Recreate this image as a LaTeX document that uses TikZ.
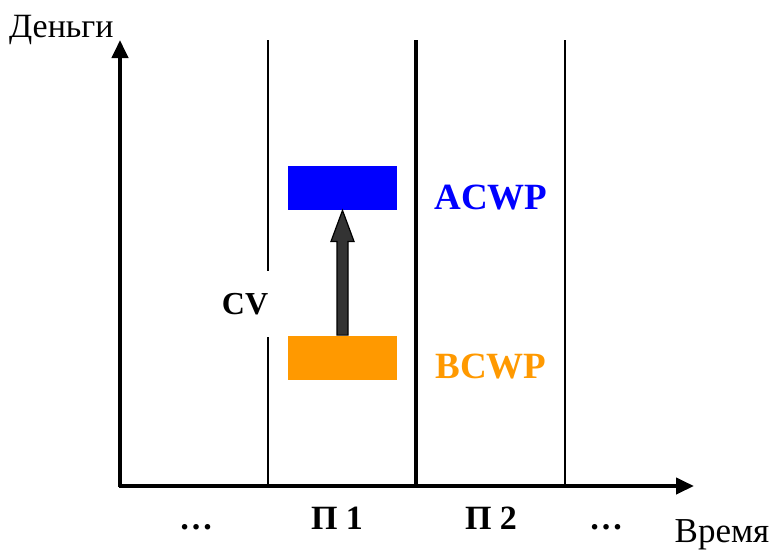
\documentclass[tikz,border=0pt]{standalone}
\usepackage{fontspec}
\setmainfont{Liberation Serif}
\usetikzlibrary{arrows.meta,calc}
\definecolor{acwpblue}{HTML}{0000FF}
\definecolor{bcwporange}{HTML}{FF9900}
\definecolor{cvgray}{HTML}{333333}
\tikzset{
  axis/.style={line width=2pt, -{Triangle[length=9pt,width=8pt]}},
  period/.style={line width=0.75pt},
  border/.style={line width=2pt},
  bar/.style={minimum width=54.5pt, minimum height=22pt, inner sep=0pt},
  lbl/.style={font=\fontsize{18.5}{20}\selectfont\bfseries},
  per/.style={anchor=base, font=\fontsize{17}{19}\selectfont\bfseries},
  ax/.style={font=\fontsize{17}{19}\selectfont},
}
\begin{document}
\begin{tikzpicture}[x=0.5pt,y=-0.5pt]
        \useasboundingbox (0,0) rectangle (779,552);

        % axes
        \coordinate (O) at (120,486);
        \coordinate (Ytop) at (120,40);
        \coordinate (Xend) at (694,486);

        % period borders
        \draw[period] (268,40) -- (268,486);
        \draw[border] (416,40) -- (416,486);
        \draw[period] (565,40) -- (565,486);

        \draw[axis] ($(O)+(0,1)$) -- (Ytop);
        \draw[axis] ($(O)+(-1,0)$) -- (Xend);

        \node[ax, anchor=west] (money) at (2,30) {Деньги};
        \node[ax, font=\fontsize{17.5}{19}\selectfont] (time) at (722,535) {Время};

        % bars
        \node[bar, fill=acwpblue] (acwp) at (342.5,188) {};
        \node[bar, fill=bcwporange] (bcwp) at (342.5,357.5) {};
        \node[lbl, text=acwpblue] (acwpl) at (491,198) {ACWP};
        \node[lbl, text=bcwporange] (bcwpl) at (491,367) {BCWP};

        % cost variance
        \node[lbl, fill=white, minimum height=33pt, font=\fontsize{16}{18}\selectfont\bfseries] (cv) at (245,304) {CV};
        \coordinate (tail) at (bcwp.north);
        \coordinate (tip) at (acwp.south);
        \draw[fill=cvgray, line width=0.6pt, line join=miter]
          ($(tail)+(-5.5,0)$) -- ($(tip)+(-5.5,31)$) -- ($(tip)+(-11.5,31)$) -- (tip)
          -- ($(tip)+(11.5,31)$) -- ($(tip)+(5.5,31)$) -- ($(tail)+(5.5,0)$) -- cycle;

        % periods
        \node[per] (p0) at (196,529) {…};
        \node[per] (p1) at (337,529) {П 1};
        \node[per] (p2) at (491,529) {П 2};
        \node[per] (p3) at (606,529) {…};
\end{tikzpicture}
\end{document}
